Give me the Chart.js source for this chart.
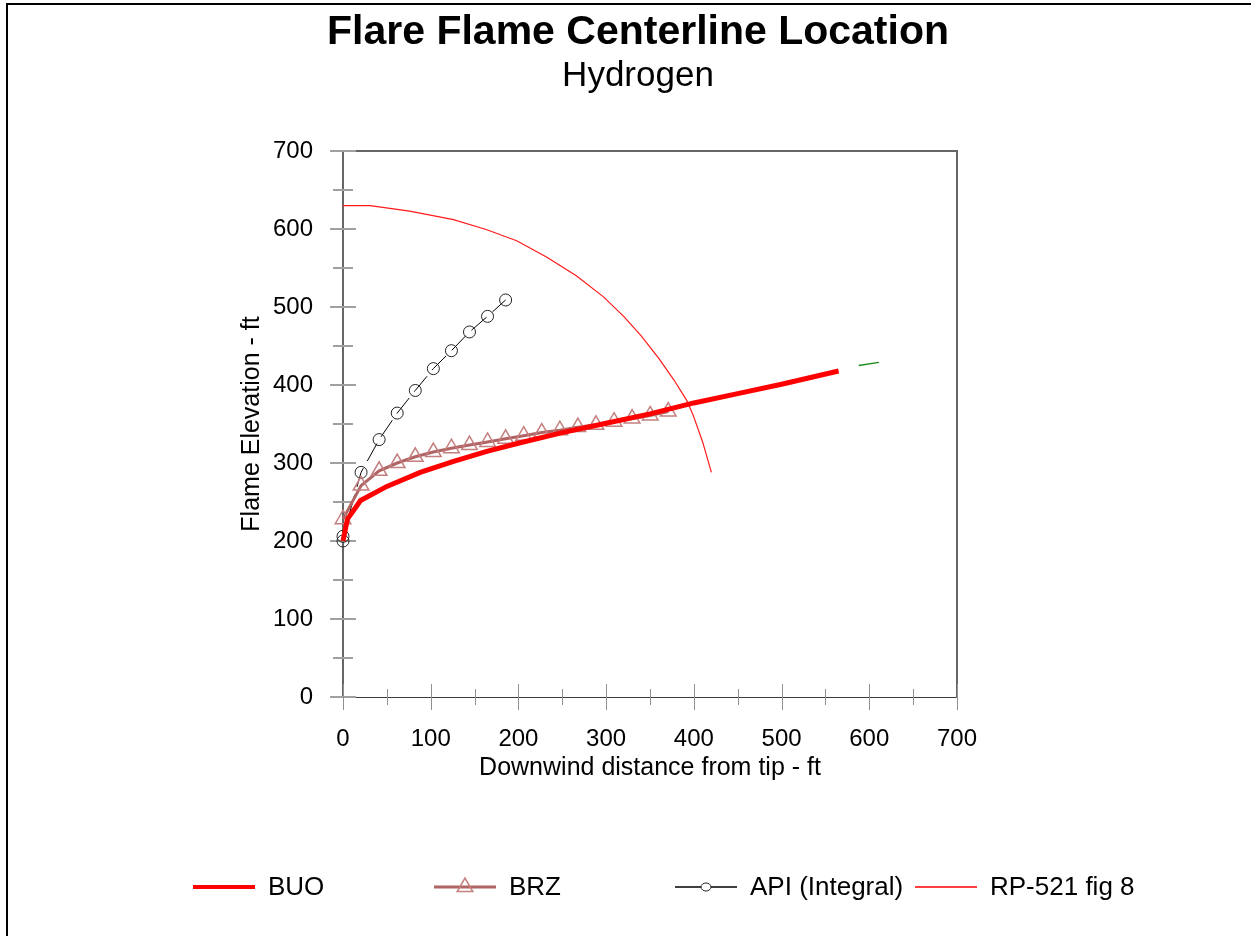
<!DOCTYPE html>
<html>
<head>
<meta charset="utf-8">
<title>Flare Flame Centerline Location</title>
<script src="https://cdn.jsdelivr.net/npm/chart.js@4.4.1/dist/chart.umd.min.js"></script>
<style>
  html, body { margin: 0; padding: 0; background: #fff; }
  #chart { display: block; }
</style>
</head>
<body>
<canvas id="chart" width="1251" height="936"></canvas>
<script>
// values (ft)
const buoX = [0, 5, 20, 50, 88, 126, 164, 202, 250, 300, 350, 400, 450, 500, 565];
const buoY = [200, 228, 252, 270, 288, 302, 315, 326, 339, 351, 363, 377, 389, 401, 418];

const brzX = [0, 20.6, 41.2, 61.8, 82.4, 103, 123.6, 144.2, 164.8, 185.4, 206, 226.6, 247.2, 267.8, 288.4, 309, 329.6, 350.2, 370.8];
const brzY = [228, 271, 290, 300, 308, 314, 319, 323, 327, 331, 335, 339, 342, 346, 349, 353, 357, 361, 366];

const apiX = [0, 0, 20.6, 41.2, 61.8, 82.4, 103, 123.6, 144.2, 164.8, 185.4];
const apiY = [200, 206, 288, 330, 364, 393, 421, 444, 468, 488, 509];

const rpX = [0, 31, 76, 126, 164, 198, 232, 266, 297, 320, 340, 360, 377, 392, 399, 410, 420];
const rpY = [630, 630, 623, 612, 599, 585, 564, 540, 513, 488, 463, 434, 407, 380, 362, 327, 288];

const extraX = [588, 611];
const extraY = [425, 429];

const xTicks = [0, 100, 200, 300, 400, 500, 600, 700];
const yTicks = [0, 100, 200, 300, 400, 500, 600, 700];

function toPoints(xs, ys) {
  return xs.map((x, i) => ({ x: x, y: ys[i] }));
}

Chart.defaults.font.family = '"Liberation Sans", Arial, sans-serif';
Chart.defaults.color = '#000';

// ticks that cross the axis lines, plus the outer frame
const axisTicks = {
  id: 'axisTicks',
  beforeDraw(chart) {
    const ctx = chart.ctx;
    ctx.save();
    ctx.strokeStyle = '#000';
    ctx.lineWidth = 2;
    ctx.beginPath();
    ctx.moveTo(7, 940);
    ctx.lineTo(7, 4);
    ctx.lineTo(1260, 4);
    ctx.stroke();
    ctx.restore();
  },
  beforeDatasetsDraw(chart) {
    const ctx = chart.ctx;
    const xs = chart.scales.x;
    const ys = chart.scales.y;
    const area = chart.chartArea;
    ctx.save();
    ctx.strokeStyle = '#a0a0a0';
    ctx.lineWidth = 2;
    for (let v = 0; v <= 700; v += 50) {
      const py = Math.round(ys.getPixelForValue(v));
      const len = v % 100 === 0 ? 13 : 10;
      ctx.beginPath();
      ctx.moveTo(area.left - len, py);
      ctx.lineTo(area.left + len, py);
      ctx.stroke();
    }
    ctx.lineWidth = 1;
    ctx.strokeStyle = '#909090';
    for (let v = 0; v <= 700; v += 50) {
      const px = Math.round(xs.getPixelForValue(v)) + 0.5;
      const len = v % 100 === 0 ? 13 : 8;
      ctx.beginPath();
      ctx.moveTo(px, area.bottom - len);
      ctx.lineTo(px, area.bottom + len);
      ctx.stroke();
    }
    ctx.restore();
  },
};

// legend in fixed columns under the plot
const columnLegend = {
  id: 'columnLegend',
  afterDraw(chart) {
    const ctx = chart.ctx;
    const starts = [193, 434, 675, 915];
    const y = 887;
    ctx.save();
    chart.data.datasets.forEach((ds, i) => {
      if (!ds.label) {
        return;
      }
      const x = starts[i];
      ctx.setLineDash([]);
      ctx.strokeStyle = ds.legendColor || ds.borderColor;
      ctx.lineWidth = ds.legendWidth || ds.borderWidth;
      ctx.beginPath();
      ctx.moveTo(x, y);
      ctx.lineTo(x + 62, y);
      ctx.stroke();

      if (ds.pointStyle === 'triangle') {
        const r = ds.pointRadius;
        ctx.strokeStyle = ds.pointBorderColor;
        ctx.lineWidth = ds.pointBorderWidth;
        ctx.beginPath();
        ctx.moveTo(x + 31, y - r);
        ctx.lineTo(x + 31 + r * 0.866, y + r * 0.5);
        ctx.lineTo(x + 31 - r * 0.866, y + r * 0.5);
        ctx.closePath();
        ctx.stroke();
      } else if (ds.pointStyle === 'circle') {
        ctx.fillStyle = '#fff';
        ctx.strokeStyle = ds.pointBorderColor;
        ctx.lineWidth = 1;
        ctx.beginPath();
        ctx.ellipse(x + 31, y, 5, 4, 0, 0, Math.PI * 2);
        ctx.fill();
        ctx.stroke();
      }

      ctx.fillStyle = '#000';
      ctx.font = '26px "Liberation Sans", Arial, sans-serif';
      ctx.textBaseline = 'middle';
      ctx.textAlign = 'left';
      ctx.fillText(ds.label, x + 75, y + 1);
    });
    ctx.restore();
  },
};

new Chart(document.getElementById('chart'), {
  type: 'scatter',
  data: {
    datasets: [
      {
        label: 'BUO',
        data: toPoints(buoX, buoY),
        showLine: true,
        borderColor: '#ff0000',
        borderWidth: 5,
        legendWidth: 4,
        pointRadius: 0,
        tension: 0,
        clip: false,
        order: 1,
      },
      {
        label: 'BRZ',
        data: toPoints(brzX, brzY),
        showLine: true,
        borderColor: '#b06464',
        borderWidth: 3,
        pointStyle: 'triangle',
        pointRadius: 9,
        pointBorderColor: '#c47f7f',
        pointBorderWidth: 1.5,
        pointBackgroundColor: 'rgba(0,0,0,0)',
        clip: false,
        order: 2,
      },
      {
        label: 'API (Integral)',
        data: toPoints(apiX, apiY),
        showLine: true,
        borderColor: '#000000',
        borderWidth: 1,
        legendWidth: 1.5,
        borderDash: [20, 8],
        pointStyle: 'circle',
        pointRadius: 6,
        pointBorderColor: '#222222',
        pointBorderWidth: 1,
        pointBackgroundColor: 'rgba(0,0,0,0)',
        clip: false,
        order: 3,
      },
      {
        label: 'RP-521 fig 8',
        data: toPoints(rpX, rpY),
        showLine: true,
        borderColor: '#ff1a1a',
        legendColor: '#ff0000',
        borderWidth: 1.2,
        legendWidth: 1.6,
        pointRadius: 0,
        tension: 0,
        clip: false,
        order: 4,
      },
      {
        label: '',
        data: toPoints(extraX, extraY),
        showLine: true,
        borderColor: '#1a8a1a',
        borderWidth: 1.5,
        pointRadius: 0,
        clip: false,
        order: 5,
      },
    ],
  },
  options: {
    responsive: false,
    animation: false,
    events: [],
    layout: {
      padding: { left: 223, right: 198, top: 0, bottom: 153 },
    },
    plugins: {
      legend: { display: false },
      tooltip: { enabled: false },
      title: {
        display: true,
        text: 'Flare Flame Centerline Location',
        color: '#000',
        font: { size: 41, weight: 'bold', lineHeight: 1.0 },
        padding: { top: 12, bottom: 0 },
      },
      subtitle: {
        display: true,
        text: 'Hydrogen',
        color: '#000',
        font: { size: 35, weight: 'normal', lineHeight: 1.0 },
        padding: { top: 6, bottom: 0 },
      },
    },
    scales: {
      x: {
        type: 'linear',
        position: 'bottom',
        min: 0,
        max: 700,
        afterBuildTicks: (scale) => {
          scale.ticks = xTicks.map((v) => ({ value: v }));
        },
        afterFit: (scale) => {
          scale.height = 86;
        },
        grid: { display: false, drawTicks: false, tickLength: 0 },
        border: { display: true, color: '#3c3c3c', width: 1 },
        ticks: {
          padding: 28,
          font: { size: 24 },
          maxRotation: 0,
          autoSkip: false,
        },
        title: {
          display: true,
          text: 'Downwind distance from tip - ft',
          font: { size: 25 },
          padding: { top: 0, bottom: 0 },
        },
      },
      y: {
        type: 'linear',
        position: 'left',
        min: 0,
        max: 700,
        afterBuildTicks: (scale) => {
          scale.ticks = yTicks.map((v) => ({ value: v }));
        },
        afterFit: (scale) => {
          scale.width = 120;
        },
        grid: { display: false, drawTicks: false, tickLength: 0 },
        border: { display: true, color: '#666666', width: 2 },
        ticks: {
          padding: 30,
          font: { size: 24 },
          autoSkip: false,
        },
        title: {
          display: true,
          text: 'Flame Elevation - ft',
          font: { size: 25 },
          padding: { top: 14, bottom: 0 },
        },
      },
      x2: {
        type: 'linear',
        position: 'top',
        min: 0,
        max: 700,
        afterFit: (scale) => {
          scale.height = 57;
        },
        grid: { display: false, drawTicks: false },
        border: { display: true, color: '#666666', width: 2 },
        ticks: { display: false },
      },
      y2: {
        type: 'linear',
        position: 'right',
        min: 0,
        max: 700,
        afterFit: (scale) => {
          scale.width = 96;
        },
        grid: { display: false, drawTicks: false },
        border: { display: true, color: '#666666', width: 2 },
        ticks: { display: false },
      },
    },
  },
  plugins: [axisTicks, columnLegend],
});
</script>
</body>
</html>
